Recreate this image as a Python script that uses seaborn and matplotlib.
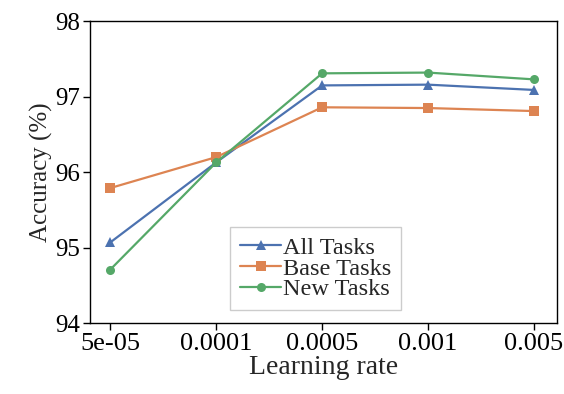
import numpy as np
import pandas as pd
import matplotlib.pyplot as plt
import seaborn as sns

# datos
learning_rates = ["5e-05", "0.0001", "0.0005", "0.001", "0.005"]
all_tasks = [95.07, 96.13, 97.15, 97.16, 97.09]
base_tasks = [95.79, 96.20, 96.86, 96.85, 96.81]
new_tasks = [94.71, 96.13, 97.31, 97.32, 97.23]
series = ["All Tasks", "Base Tasks", "New Tasks"]

df = pd.DataFrame({
    "Learning rate": learning_rates * 3,
    "Accuracy": all_tasks + base_tasks + new_tasks,
    "Serie": [s for s in series for _ in learning_rates],
})

sns.set_theme(style="ticks", palette="deep")
plt.rcParams["font.family"] = ["Liberation Serif", "DejaVu Serif"]

fig = plt.figure(figsize=(5.64, 3.94), dpi=100)
ax = fig.add_axes([0.16, 0.18, 0.828, 0.766])

sns.lineplot(data=df, x="Learning rate", y="Accuracy", hue="Serie", style="Serie",
             markers={"All Tasks": "^", "Base Tasks": "s", "New Tasks": "o"},
             dashes=False, markersize=6.5, markeredgewidth=0, linewidth=1.6,
             sort=False, ax=ax)

ax.set_ylim(94, 98)
ax.set_yticks([94, 95, 96, 97, 98])
ax.set_xlim(-0.19, 4.22)
ax.set_xlabel("Learning rate", fontsize=20, labelpad=0)
ax.set_ylabel("Accuracy (%)", fontsize=18, labelpad=2)
ax.tick_params(axis="x", labelsize=19, length=5, width=1, colors="black", pad=2)
ax.tick_params(axis="y", labelsize=18, length=5, width=1, colors="black", pad=2)
for s in ax.spines.values():
    s.set_color("black")
    s.set_linewidth(1)

ax.legend(title=None, loc="lower left", bbox_to_anchor=(0.30, 0.043),
          fontsize=17.5, handlelength=1.7, handletextpad=0.05,
          labelspacing=-0.05, borderpad=0.4, borderaxespad=0, fancybox=False,
          edgecolor="#cccccc", framealpha=1)

plt.savefig("out.png", dpi=100)
